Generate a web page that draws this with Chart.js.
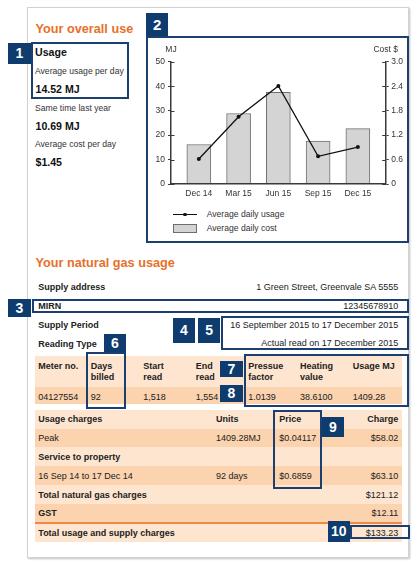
<!DOCTYPE html>
<html>
<head>
<meta charset="utf-8">
<script src="https://cdn.jsdelivr.net/npm/chart.js@4/dist/chart.umd.min.js"></script>
<style>
  html, body { margin:0; padding:0; background:#fff; }
  body { width:417px; height:565px; position:relative; overflow:hidden; font-family:"Liberation Sans", Arial, sans-serif; color:#222; }
  .abs { position:absolute; }
  .panel { position:absolute; left:27px; top:7px; width:382px; height:551px; box-sizing:border-box; border:1px solid #d2d2d2; box-shadow:1px 1px 2px rgba(0,0,0,0.25); background:#fff; }
  .h { position:absolute; font-size:12.7px; font-weight:bold; color:#e8702a; line-height:16px; white-space:nowrap; }
  .t { position:absolute; font-size:9px; line-height:12px; white-space:nowrap; color:#222; }
  .s { position:absolute; font-size:8.6px; line-height:12px; white-space:nowrap; color:#333; }
  .big { position:absolute; font-size:10.6px; font-weight:bold; line-height:12px; white-space:nowrap; color:#111; }
  .b { font-weight:bold; }
  .two { line-height:10.6px; }
  .badge { position:absolute; background:#0e3c6e; color:#fff; font-weight:bold; font-size:14px; display:flex; align-items:center; justify-content:center; }
  .box { position:absolute; box-sizing:border-box; border:2px solid #1b3f6e; }
  .light { position:absolute; background:#fde5cf; }
  .dark { position:absolute; background:#fbd3ae; }
  #chartWrap { position:absolute; left:148px; top:38px; width:259px; height:170px; }
</style>
</head>
<body>
<div class="panel"></div>

<!-- Your overall use -->
<div class="h" style="left:35.5px;top:21.3px;">Your overall use</div>
<div class="big" style="left:35px;top:46px;">Usage</div>
<div class="s" style="left:35px;top:65px;">Average usage per day</div>
<div class="big" style="left:35.5px;top:83.3px;">14.52 MJ</div>
<div class="s" style="left:35px;top:101.7px;">Same time last year</div>
<div class="big" style="left:35.5px;top:120px;">10.69 MJ</div>
<div class="s" style="left:35px;top:138.3px;">Average cost per day</div>
<div class="big" style="left:35.5px;top:156.3px;">$1.45</div>
<div class="box" style="left:31px;top:42px;width:97.7px;height:57.3px;"></div>
<div class="badge" style="left:7.7px;top:42.7px;width:23.3px;height:21.3px;">1</div>

<!-- Chart box -->
<div class="box" style="left:146px;top:35.7px;width:263.3px;height:207.6px;"></div>
<div class="badge" style="left:146px;top:13.3px;width:22.3px;height:22.7px;font-size:15px;">2</div>
<div id="chartWrap"><canvas id="c" width="259" height="170"></canvas></div>
<div class="abs" style="left:172.7px;top:213.6px;width:24px;height:0;border-top:1.3px solid #111;"></div>
<div class="abs" style="left:183.3px;top:212.5px;width:3.6px;height:3.6px;border-radius:50%;background:#111;"></div>
<div class="s" id="legText1" style="left:206.7px;top:208.3px;"></div>
<div class="abs" style="left:173px;top:224px;width:24px;height:8.5px;box-sizing:border-box;background:#d4d4d4;border:1px solid #6e6e6e;"></div>
<div class="s" id="legText2" style="left:206.7px;top:222px;"></div>

<!-- Your natural gas usage -->
<div class="h" style="left:35.5px;top:254.7px;">Your natural gas usage</div>
<div class="t b" style="left:38.3px;top:280.7px;">Supply address</div>
<div class="t" style="right:18.7px;top:280.7px;">1 Green Street, Greenvale SA 5555</div>
<div class="t b" style="left:38.3px;top:299.7px;">MIRN</div>
<div class="t" style="right:18.7px;top:299.7px;">12345678910</div>
<div class="box" style="left:31.7px;top:299px;width:377.6px;height:13.6px;"></div>
<div class="badge" style="left:7.7px;top:299.3px;width:23.3px;height:18px;">3</div>
<div class="t b" style="left:38.3px;top:318.5px;">Supply Period</div>
<div class="t" style="right:18.7px;top:318.8px;">16 September 2015 to 17 December 2015</div>
<div class="t b" style="left:38.3px;top:337.5px;">Reading Type</div>
<div class="t" style="right:18.7px;top:337.3px;">Actual read on 17 December 2015</div>
<div class="box" style="left:220.5px;top:316px;width:188.5px;height:33.5px;"></div>
<div class="badge" style="left:173px;top:317.7px;width:22px;height:25px;">4</div>
<div class="badge" style="left:198.3px;top:317.7px;width:21.7px;height:25px;">5</div>

<!-- Meter table -->
<div class="light" style="left:35px;top:356px;width:367.3px;height:30.7px;"></div>
<div class="dark" style="left:35px;top:386.7px;width:367.3px;height:17.6px;"></div>
<div class="t b two" style="left:38.3px;top:361.4px;">Meter no.</div>
<div class="t b two" style="left:90.7px;top:361.4px;">Days<br>billed</div>
<div class="t b two" style="left:143.3px;top:361.4px;">Start<br>read</div>
<div class="t b two" style="left:195.7px;top:361.4px;">End<br>read</div>
<div class="t b two" style="left:248.3px;top:361.4px;">Pressue<br>factor</div>
<div class="t b two" style="left:300px;top:361.4px;">Heating<br>value</div>
<div class="t b two" style="left:352.7px;top:361.4px;">Usage MJ</div>
<div class="t" style="left:38.3px;top:390.7px;">04127554</div>
<div class="t" style="left:90.7px;top:390.7px;">92</div>
<div class="t" style="left:143.3px;top:390.7px;">1,518</div>
<div class="t" style="left:195.7px;top:390.7px;">1,554</div>
<div class="t" style="left:248.3px;top:390.7px;">1.0139</div>
<div class="t" style="left:300px;top:390.7px;">38.6100</div>
<div class="t" style="left:352.7px;top:390.7px;">1409.28</div>
<div class="box" style="left:85.7px;top:351.7px;width:40.3px;height:57.6px;"></div>
<div class="badge" style="left:103.6px;top:334px;width:22.4px;height:17.7px;">6</div>
<div class="box" style="left:244px;top:353.5px;width:164.5px;height:53.2px;"></div>
<div class="badge" style="left:220px;top:360.5px;width:22.7px;height:16.5px;">7</div>
<div class="badge" style="left:220px;top:385px;width:22.7px;height:16.7px;">8</div>

<!-- Charges table -->
<div class="light" style="left:35px;top:410px;width:367.3px;height:18.7px;"></div>
<div class="dark" style="left:35px;top:428.7px;width:367.3px;height:18.7px;"></div>
<div class="light" style="left:35px;top:447.4px;width:367.3px;height:19px;"></div>
<div class="dark" style="left:35px;top:466.4px;width:367.3px;height:18.6px;"></div>
<div class="light" style="left:35px;top:485px;width:367.3px;height:19px;"></div>
<div class="dark" style="left:35px;top:504px;width:367.3px;height:18px;"></div>
<div class="abs" style="left:35px;top:522px;width:367.3px;height:2px;background:#ee8a45;"></div>
<div class="light" style="left:35px;top:524px;width:367.3px;height:18px;"></div>

<div class="t b" style="left:38.3px;top:413.3px;">Usage charges</div>
<div class="t b" style="left:216px;top:413.3px;">Units</div>
<div class="t b" style="left:279.3px;top:413.3px;">Price</div>
<div class="t b" style="right:18.7px;top:413.3px;">Charge</div>
<div class="t" style="left:38.3px;top:432.3px;">Peak</div>
<div class="t" style="left:216px;top:432.3px;">1409.28MJ</div>
<div class="t" style="left:279.3px;top:432.3px;">$0.04117</div>
<div class="t" style="right:18.7px;top:432.3px;">$58.02</div>
<div class="t b" style="left:38.3px;top:451.3px;">Service to property</div>
<div class="t" style="left:38.3px;top:470px;">16 Sep 14 to 17 Dec 14</div>
<div class="t" style="left:216px;top:470px;">92 days</div>
<div class="t" style="left:279.3px;top:470px;">$0.6859</div>
<div class="t" style="right:18.7px;top:470px;">$63.10</div>
<div class="t b" style="left:38.3px;top:489px;">Total natural gas charges</div>
<div class="t" style="right:18.7px;top:489px;">$121.12</div>
<div class="t b" style="left:38.3px;top:507.3px;">GST</div>
<div class="t" style="right:18.7px;top:507.3px;">$12.11</div>
<div class="t b" style="left:38.3px;top:526.7px;">Total usage and supply charges</div>
<div class="t" style="right:18.7px;top:526.7px;">$133.23</div>
<div class="box" style="left:273.3px;top:410px;width:48.7px;height:79.3px;"></div>
<div class="badge" style="left:321.7px;top:416.7px;width:22.3px;height:20px;">9</div>
<div class="box" style="left:350px;top:525px;width:60px;height:14.3px;"></div>
<div class="badge" style="left:327.7px;top:521px;width:22.3px;height:20.7px;">10</div>

<script>
// ---- chart data ----
const categories = ['Dec 14', 'Mar 15', 'Jun 15', 'Sep 15', 'Dec 15'];
const usageMJ = [10.2, 27.5, 40.1, 11.3, 15.1];        // Average daily usage (MJ, left axis)
const costDollars = [0.97, 1.73, 2.25, 1.05, 1.36];    // Average daily cost ($, right axis)
const mjTicks = [0, 10, 20, 30, 40, 50];
const costTicks = [0, 0.6, 1.2, 1.8, 2.4, 3.0];
const usageLabel = 'Average daily usage';
const costLabel = 'Average daily cost';
const mjTitle = 'MJ';
const costTitle = 'Cost $';

document.getElementById('legText1').textContent = usageLabel;
document.getElementById('legText2').textContent = costLabel;

const FONT = '"Liberation Sans", Arial, sans-serif';
Chart.defaults.font.family = FONT;
Chart.defaults.font.size = 8.5;
Chart.defaults.color = '#333';

const AXIS = '#3a3a3a';

const extras = {
  id: 'extras',
  afterDraw(chart) {
    const { ctx, chartArea: a, scales } = chart;
    ctx.save();
    ctx.strokeStyle = AXIS;
    ctx.lineWidth = 1;
    scales.y.ticks.forEach(t => {
      const py = Math.round(scales.y.getPixelForValue(t.value)) + 0.5;
      ctx.beginPath(); ctx.moveTo(a.left, py); ctx.lineTo(a.left + 3.5, py); ctx.stroke();
    });
    scales.y1.ticks.forEach(t => {
      const py = Math.round(scales.y1.getPixelForValue(t.value)) + 0.5;
      ctx.beginPath(); ctx.moveTo(a.right - 3.5, py); ctx.lineTo(a.right, py); ctx.stroke();
    });
    ctx.fillStyle = '#333';
    ctx.font = '8.5px ' + FONT;
    ctx.textAlign = 'center';
    ctx.textBaseline = 'middle';
    ctx.fillText(mjTitle, a.left, a.top - 11.7);
    ctx.fillText(costTitle, a.right, a.top - 11.7);
    ctx.restore();
  }
};

new Chart(document.getElementById('c'), {
  type: 'bar',
  data: {
    datasets: [
      {
        type: 'line',
        label: usageLabel,
        data: usageMJ.map((v, i) => ({ x: i, y: v })),
        yAxisID: 'y',
        borderColor: '#111',
        borderWidth: 1.3,
        pointRadius: 2,
        pointBackgroundColor: '#111',
        pointBorderWidth: 0,
        tension: 0,
        order: 0
      },
      {
        type: 'bar',
        label: costLabel,
        data: costDollars.map((v, i) => ({ x: i, y: v })),
        yAxisID: 'y1',
        backgroundColor: '#d4d4d4',
        borderColor: '#707070',
        borderWidth: 1,
        barThickness: 24,
        order: 1
      }
    ]
  },
  options: {
    responsive: false,
    animation: false,
    devicePixelRatio: 1,
    layout: { padding: { top: 23.7, left: 0, right: 0, bottom: 0 } },
    plugins: { legend: { display: false }, tooltip: { enabled: false } },
    scales: {
      x: {
        type: 'linear',
        min: -0.7,
        max: 4.7,
        offset: false,
        afterBuildTicks: s => { s.ticks = categories.map((c, i) => ({ value: i })); },
        afterFit: s => { s.height = 24; },
        ticks: {
          autoSkip: false, maxRotation: 0, padding: 5, color: '#333',
          callback: v => categories[v]
        },
        grid: { display: false, drawTicks: false },
        border: { display: true, color: AXIS, width: 1.5, z: 1 }
      },
      y: {
        type: 'linear',
        position: 'left',
        min: 0, max: 50,
        afterBuildTicks: s => { s.ticks = mjTicks.map(v => ({ value: v })); },
        afterFit: s => { s.width = 23; },
        ticks: { padding: 3, color: '#333' },
        grid: { drawOnChartArea: false, drawTicks: true, tickLength: 3, color: AXIS },
        border: { display: true, color: AXIS, width: 1.5, z: 1 }
      },
      y1: {
        type: 'linear',
        position: 'right',
        min: 0, max: 3,
        afterBuildTicks: s => { s.ticks = costTicks.map(v => ({ value: v })); },
        afterFit: s => { s.width = 21.3; },
        ticks: { padding: 2.5, color: '#333', callback: v => v === 0 ? '0' : v.toFixed(1) },
        grid: { drawOnChartArea: false, drawTicks: true, tickLength: 3, color: AXIS },
        border: { display: true, color: AXIS, width: 1.5, z: 1 }
      }
    }
  },
  plugins: [extras]
});
</script>
</body>
</html>
